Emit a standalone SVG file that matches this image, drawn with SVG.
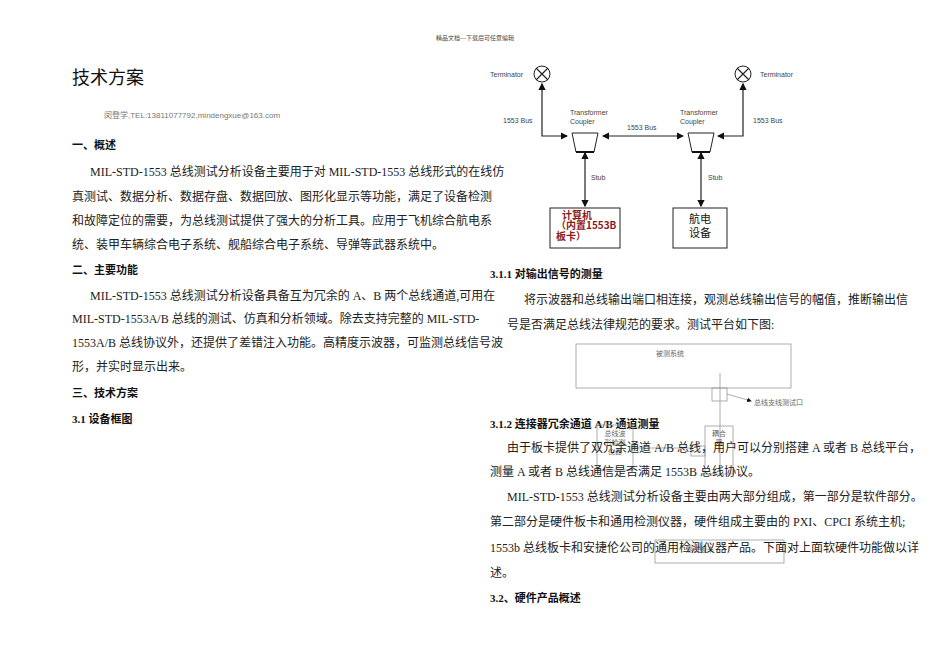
<svg xmlns="http://www.w3.org/2000/svg" width="950" height="672" viewBox="0 0 950 672">
<style>
.b{font-family:"Liberation Serif","Noto Sans CJK SC",serif;font-size:12px;fill:#222}
.h{font-family:"Liberation Serif","Noto Sans CJK SC",serif;font-size:11px;font-weight:bold;fill:#111}
.s{font-family:"Liberation Sans",sans-serif;font-size:7px;fill:#444}
.ln{stroke:#222;stroke-width:1.2;fill:none}
.g{stroke:#999;stroke-width:0.8;fill:none}
.gt{font-family:"Noto Sans CJK SC",sans-serif;font-size:7px;fill:#666}
</style>
<defs><marker id="a" markerWidth="6" markerHeight="6" refX="5" refY="3" orient="auto-start-reverse"><path d="M0,0L6,3L0,6Z" fill="#111"/></marker></defs>
<rect width="950" height="672" fill="#fff"/>
<text x="475" y="40" text-anchor="middle" font-family="Noto Sans CJK SC,sans-serif" font-size="6" fill="#444">精品文档---下载后可任意编辑</text>
<text x="72" y="84" font-family="Noto Sans CJK SC,sans-serif" font-size="18" fill="#111">技术方案</text>
<text x="104" y="118" font-family="Liberation Sans,Noto Sans CJK SC,sans-serif" font-size="8" fill="#777">闵登学,TEL:13811077792,mindengxue@163.com</text>
<text class="h" x="72" y="149">一、概述</text>
<text class="b" x="90" y="176">MIL-STD-1553 总线测试分析设备主要用于对 MIL-STD-1553 总线形式的在线仿</text>
<text class="b" x="72" y="201">真测试、数据分析、数据存盘、数据回放、图形化显示等功能，满足了设备检测</text>
<text class="b" x="72" y="225">和故障定位的需要，为总线测试提供了强大的分析工具。应用于飞机综合航电系</text>
<text class="b" x="72" y="249">统、装甲车辆综合电子系统、舰船综合电子系统、导弹等武器系统中。</text>
<text class="h" x="72" y="274">二、主要功能</text>
<text class="b" x="90" y="300">MIL-STD-1553 总线测试分析设备具备互为冗余的 A、B 两个总线通道,可用在</text>
<text class="b" x="72" y="323">MIL-STD-1553A/B 总线的测试、仿真和分析领域。除去支持完整的 MIL-STD-</text>
<text class="b" x="72" y="347">1553A/B 总线协议外，还提供了差错注入功能。高精度示波器，可监测总线信号波</text>
<text class="b" x="72" y="371">形，并实时显示出来。</text>
<text class="h" x="72" y="397">三、技术方案</text>
<text class="h" x="72" y="423">3.1 设备框图</text>
<g id="connectors">
<path class="ln" d="M542 84V136H567" marker-start="url(#a)" marker-end="url(#a)"/>
<path class="ln" d="M603 136H683" marker-start="url(#a)" marker-end="url(#a)"/>
<path class="ln" d="M743 84V136H718" marker-start="url(#a)" marker-end="url(#a)"/>
<path class="ln" d="M585 153V206" marker-start="url(#a)" marker-end="url(#a)"/>
<path class="ln" d="M701 153V206" stroke="#555" marker-start="url(#a)" marker-end="url(#a)"/>
</g>
<g id="t1"><circle cx="542" cy="74" r="8" fill="#fff" stroke="#222"/><path class="ln" d="M536 68L548 80M548 68L536 80"/></g>
<g id="t2"><circle cx="743" cy="74" r="8" fill="#fff" stroke="#222"/><path class="ln" d="M737 68L749 80M749 68L737 80"/></g>
<text class="s" x="490" y="77">Terminator</text><text class="s" x="760" y="77">Terminator</text>
<text class="s" x="503" y="123">1553 Bus</text><text class="s" x="627" y="130">1553 Bus</text><text class="s" x="753" y="123">1553 Bus</text>
<text class="s" x="570" y="115">Transformer</text><text class="s" x="570" y="124">Coupler</text>
<text class="s" x="680" y="115">Transformer</text><text class="s" x="680" y="124">Coupler</text>
<g id="c1"><path d="M572 133H598L594 152H576Z" fill="#fff" stroke="#222"/><path d="M576 152H594" stroke="#111" stroke-width="2"/></g>
<g id="c2"><path d="M688 133H714L710 152H692Z" fill="#fff" stroke="#222"/><path d="M692 152H710" stroke="#111" stroke-width="2"/></g>
<text class="s" x="591" y="180">Stub</text><text class="s" x="708" y="180">Stub</text>
<g id="pc"><rect x="550" y="208" width="70" height="40" fill="#fff" stroke="#222"/>
<text x="577" y="219" text-anchor="middle" font-family="Noto Sans CJK SC,sans-serif" font-size="10" font-weight="bold" fill="#8b1a1a">计算机</text>
<text x="556" y="229" font-family="Noto Sans CJK SC,sans-serif" font-size="10" font-weight="bold" fill="#8b1a1a">（内置1553B</text>
<text x="556" y="240" font-family="Noto Sans CJK SC,sans-serif" font-size="10" font-weight="bold" fill="#8b1a1a">板卡）</text></g>
<g id="av"><rect x="673" y="208" width="54" height="40" fill="#fff" stroke="#222"/>
<text x="689" y="223" font-family="Noto Sans CJK SC,sans-serif" font-size="11" fill="#111">航电</text>
<text x="689" y="237" font-family="Noto Sans CJK SC,sans-serif" font-size="11" fill="#111">设备</text></g>
<text class="h" x="490" y="278">3.1.1 对输出信号的测量</text>
<text class="b" x="524" y="304">将示波器和总线输出端口相连接，观测总线输出信号的幅值，推断输出信</text>
<text class="b" x="507" y="329">号是否满足总线法律规范的要求。测试平台如下图:</text>
<rect class="g" x="576" y="344" width="215" height="44"/>
<text class="gt" x="670" y="356" text-anchor="middle">被测系统</text>
<path class="g" d="M720 373V475"/>
<rect class="g" x="712" y="388" width="15" height="13"/>
<path class="g" d="M727 394L751 401" marker-end="url(#a)"/>
<text class="gt" x="754" y="405">总线支线测试口</text>
<text class="h" x="490" y="428">3.1.2 连接器冗余通道 A/B 通道测量</text>
<rect class="g" x="597" y="425" width="36" height="45"/>
<text class="gt" x="615" y="436" text-anchor="middle">总线波</text><text class="gt" x="615" y="445" text-anchor="middle">形检测</text><text class="gt" x="615" y="454" text-anchor="middle">仪器</text>
<rect class="g" x="705" y="426" width="28" height="48"/>
<text class="gt" x="719" y="436" text-anchor="middle">耦合</text><text class="gt" x="719" y="445" text-anchor="middle">器</text>
<rect class="g" x="691" y="446" width="14" height="10"/>
<path class="g" d="M633 448H691"/>
<text class="b" x="507" y="452">由于板卡提供了双冗余通道 A/B 总线，用户可以分别搭建 A 或者 B 总线平台，</text>
<text class="b" x="490" y="476">测量 A 或者 B 总线通信是否满足 1553B 总线协议。</text>
<text class="b" x="507" y="501">MIL-STD-1553 总线测试分析设备主要由两大部分组成，第一部分是软件部分。</text>
<text class="b" x="490" y="526">第二部分是硬件板卡和通用检测仪器，硬件组成主要由的 PXI、CPCI 系统主机;</text>
<rect class="g" x="655" y="540" width="129" height="23"/>
<text class="gt" x="700" y="552" text-anchor="middle">测试板卡</text>
<text class="b" x="490" y="552">1553b 总线板卡和安捷伦公司的通用检测仪器产品。下面对上面软硬件功能做以详</text>
<text class="b" x="490" y="577">述。</text>
<text class="h" x="490" y="602">3.2、硬件产品概述</text>
</svg>
